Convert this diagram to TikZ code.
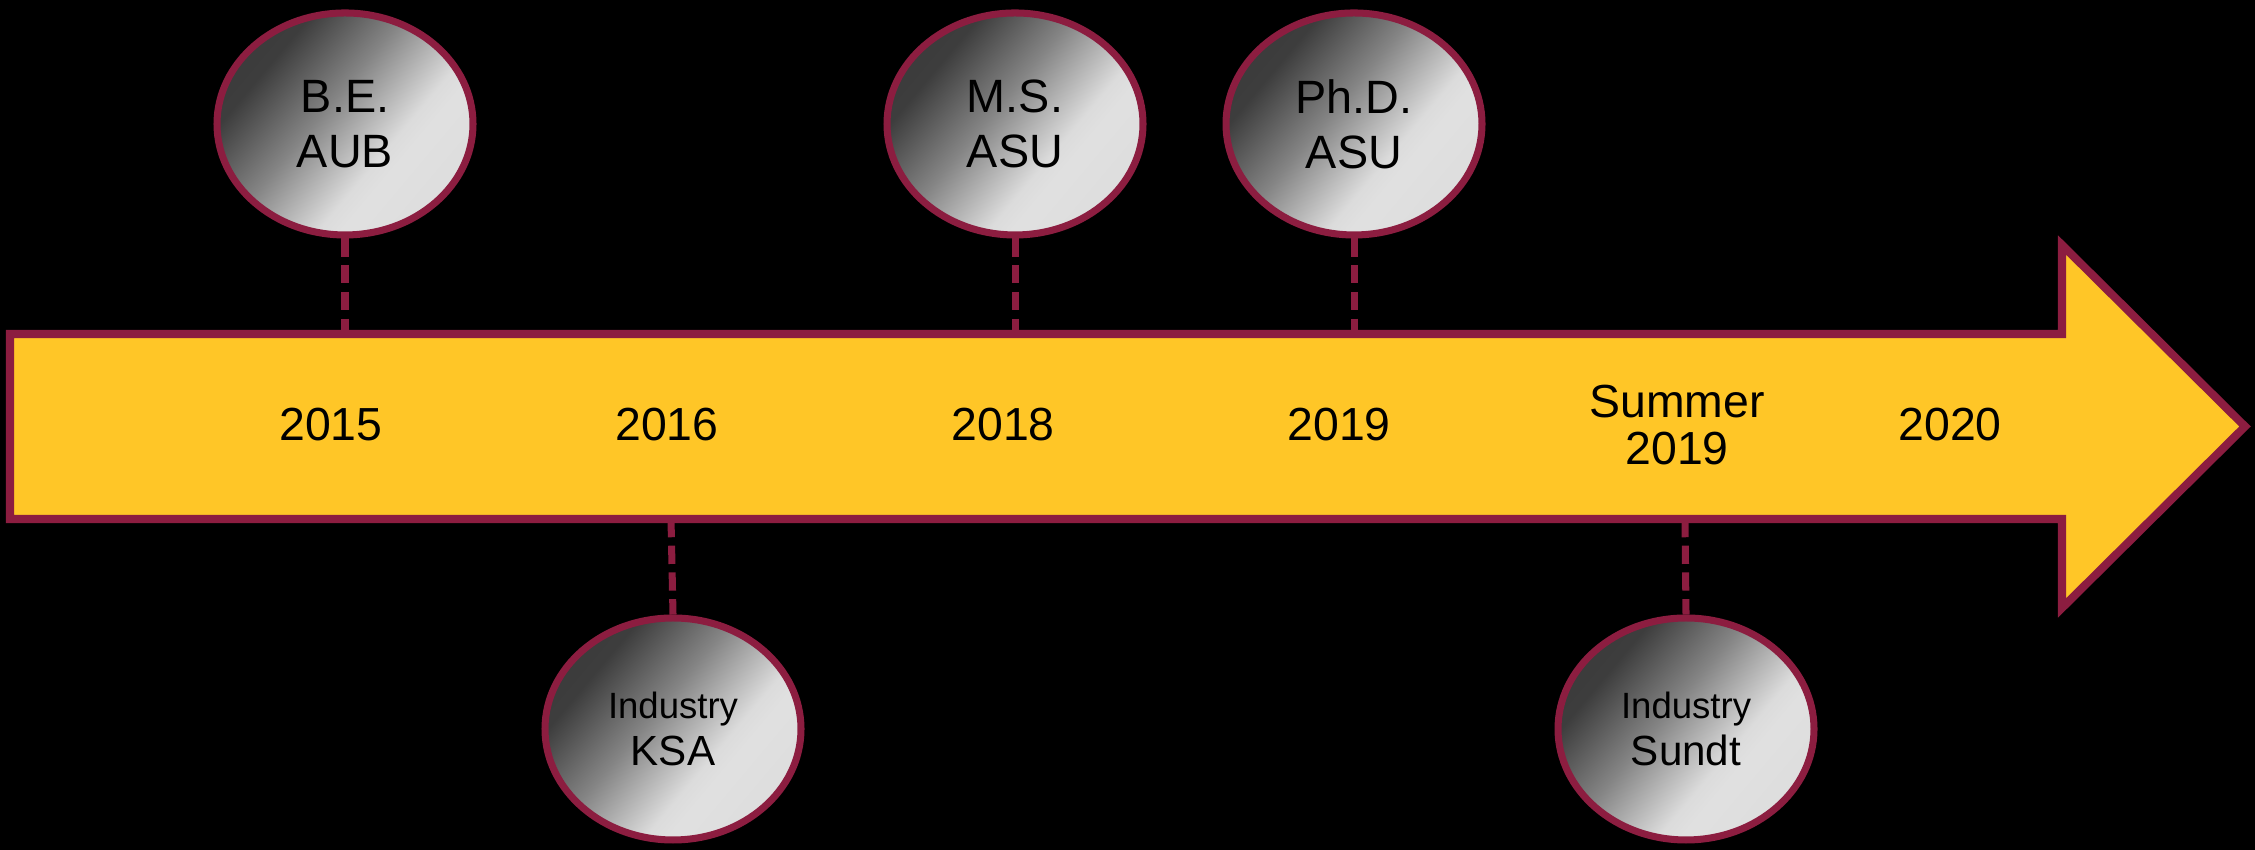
\documentclass[tikz,border=0pt]{standalone}
\usepackage{fontspec}
\setmainfont{Liberation Sans}
\usepackage{tikz}
\usetikzlibrary{shapes.geometric}
\usetikzlibrary{calc}

\definecolor{asumaroon}{HTML}{8C1D40}
\definecolor{asugold}{HTML}{FFC627}
\pgfdeclarehorizontalshading{silverball}{100bp}{gray(0bp)=(0.2); gray(30bp)=(0.24); gray(45bp)=(0.52); gray(60bp)=(0.86); gray(64bp)=(0.88); gray(100bp)=(0.84)}

\tikzset{
    bubble/.style={ellipse, draw=asumaroon, line width=2pt, shade, shading=silverball, shading angle=-40,
        minimum width=2.56cm, minimum height=2.22cm, inner sep=0pt, align=center,
        font=\fontsize{13.3}{15.6}\selectfont},
    workbubble/.style={bubble, font=\fontsize{12}{13.4}\selectfont},
    stem/.style={draw=asumaroon, line width=2pt, dash pattern=on 5.2pt off 2.4pt},
    year/.style={align=center, font=\fontsize{13.2}{13.4}\selectfont}
}
\newcommand{\smalltag}[1]{{\fontsize{10.4}{13.4}\selectfont #1}}

\begin{document}
\begin{tikzpicture}
    \fill[black] (0,0) rectangle (22.55,8.5);
    \useasboundingbox (0,0) rectangle (22.55,8.5);

    \draw[asumaroon, line width=2.3pt, fill=asugold, line join=miter]
        (0.10,5.16) -- (20.62,5.16) -- (20.62,6.05) -- (22.45,4.235)
        -- (20.62,2.42) -- (20.62,3.31) -- (0.10,3.31) -- cycle;

    \node[year] (y15) at (3.31,4.25) {2015};
    \node[year] (y16) at (6.67,4.25) {2016};
    \node[year] (y18) at (10.03,4.25) {2018};
    \node[year] (y19) at (13.39,4.25) {2019};
    \node[year] (ys19) at (16.77,4.25) {Summer\\2019};
    \node[year] (y20) at (19.50,4.25) {2020};

    \coordinate (t15) at (3.45,5.16);
    \coordinate (b16) at (6.71,3.31);
    \coordinate (t18) at (10.15,5.16);
    \coordinate (t19) at (13.54,5.16);
    \coordinate (bs19) at (16.85,3.31);

    \node[bubble] (be) at (3.45,7.26) {B.E.\\AUB};
    \node[bubble] (ms) at (10.15,7.26) {M.S.\\ASU};
    \node[bubble] (phd) at (13.54,7.26) {Ph.D.\\ASU};
    \node[workbubble] (ksa) at (6.73,1.21) {\smalltag{Industry}\\KSA};
    \node[workbubble] (sundt) at (16.86,1.21) {\smalltag{Industry}\\Sundt};

    \draw[stem] (be.south) -- (t15);
    \draw[stem] (ms.south) -- (t18);
    \draw[stem] (phd.south) -- (t19);
    \draw[stem] (b16) -- (ksa.north);
    \draw[stem] (bs19) -- (sundt.north);
\end{tikzpicture}
\end{document}
